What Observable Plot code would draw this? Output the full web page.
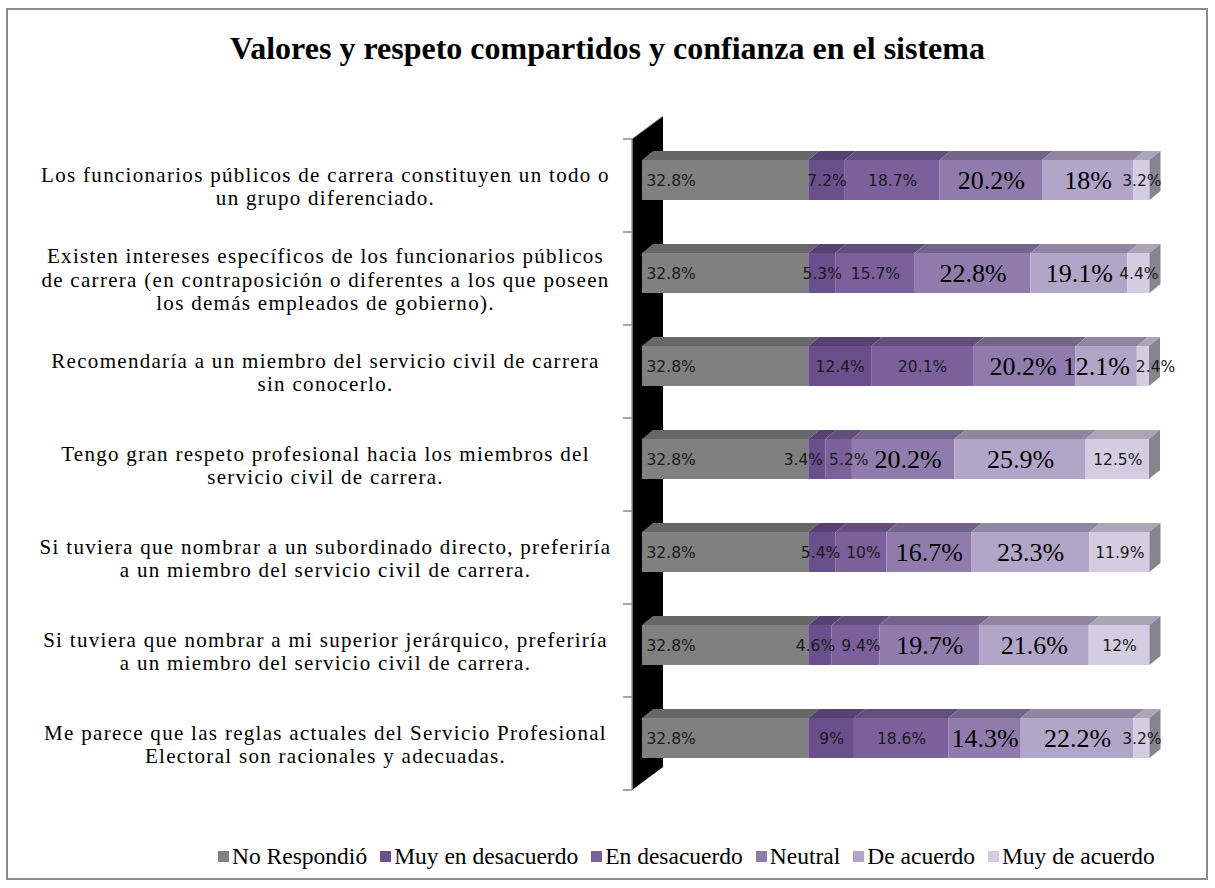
<!DOCTYPE html>
<html>
<head>
<meta charset="utf-8">
<script src="https://cdn.jsdelivr.net/npm/d3@7"></script>
<script src="https://cdn.jsdelivr.net/npm/@observablehq/plot@0.6"></script>
<style>
  html, body { margin: 0; padding: 0; background: #fff; }
  #fig { position: relative; width: 1215px; height: 888px; overflow: hidden; }
  #border { position: absolute; left: 6px; top: 8px; width: 1202px; height: 872px; border: 2px solid #8c8c8c; box-sizing: border-box; }
  #title { position: absolute; left: 0; top: 28px; width: 1215px; text-align: center; font: bold 32px "Liberation Serif", "Times New Roman", serif; line-height: 40px; color: #000; }
  #chart { position: absolute; left: 0; top: 0; }
  #legend { position: absolute; left: 218px; top: 843px; display: flex; align-items: center; font: 23.5px "Liberation Serif", "Times New Roman", serif; color: #000; white-space: nowrap; }
  #legend .item { display: flex; align-items: center; margin-right: 13px; }
  #legend .sw { width: 11px; height: 11px; margin-right: 3px; }
</style>
</head>
<body>
<div id="fig">
  <div id="border"></div>
  <div id="chart"></div>
  <div id="title">Valores y respeto compartidos y confianza en el sistema</div>
  <div id="legend"></div>
</div>
<script>
// Categories (statements), with line breaks as in the reference
const questions = [
  "Los funcionarios públicos de carrera constituyen un todo o\nun grupo diferenciado.",
  "Existen intereses específicos de los funcionarios públicos\nde carrera (en contraposición o diferentes a los que poseen\nlos demás empleados de gobierno).",
  "Recomendaría a un miembro del servicio civil de carrera\nsin conocerlo.",
  "Tengo gran respeto profesional hacia los miembros del\nservicio civil de carrera.",
  "Si tuviera que nombrar a un subordinado directo, preferiría\na un miembro del servicio civil de carrera.",
  "Si tuviera que nombrar a mi superior jerárquico, preferiría\na un miembro del servicio civil de carrera.",
  "Me parece que las reglas actuales del Servicio Profesional\nElectoral son racionales y adecuadas."
];

const seriesNames = ["No Respondió", "Muy en desacuerdo", "En desacuerdo", "Neutral", "De acuerdo", "Muy de acuerdo"];
const seriesColors = ["#808080", "#69508d", "#7c609c", "#8f7cad", "#b2a6c8", "#d4cce0"];

// Values per series, one entry per question (percent)
const noRespondio      = [32.8, 32.8, 32.8, 32.8, 32.8, 32.8, 32.8];
const muyEnDesacuerdo  = [7.2, 5.3, 12.4, 3.4, 5.4, 4.6, 9];
const enDesacuerdo     = [18.7, 15.7, 20.1, 5.2, 10, 9.4, 18.6];
const neutral          = [20.2, 22.8, 20.2, 20.2, 16.7, 19.7, 14.3];
const deAcuerdo        = [18, 19.1, 12.1, 25.9, 23.3, 21.6, 22.2];
const muyDeAcuerdo     = [3.2, 4.4, 2.4, 12.5, 11.9, 12, 3.2];

const seriesValues = [noRespondio, muyEnDesacuerdo, enDesacuerdo, neutral, deAcuerdo, muyDeAcuerdo];
const largeLabelSeries = ["Neutral", "De acuerdo"];

const data = [];
questions.forEach((q, i) => {
  seriesNames.forEach((s, j) => data.push({q, series: s, value: seriesValues[j][i]}));
});
const fmt = d => `${d.value}%`;

const chart = Plot.plot({
  width: 1215,
  height: 888,
  marginLeft: 642,
  marginRight: 66,
  marginTop: 139,
  marginBottom: 98,
  style: {background: "transparent"},
  x: {domain: [0, 100], axis: null},
  y: {domain: questions, axis: null, padding: 0},
  color: {domain: seriesNames, range: seriesColors},
  marks: [
    Plot.barX(data, {x: "value", y: "q", fill: "series", insetTop: 21, insetBottom: 32}),
    // first series label: near the base of the bar
    Plot.text(data, Plot.stackX1({
      x: "value", y: "q", z: "series",
      text: d => d.series === seriesNames[0] ? fmt(d) : null,
      textAnchor: "start", dx: 4, dy: -5,
      fontFamily: "DejaVu Sans", fontSize: 15.5, fill: "#1a1a1a"
    })),
    // small sans labels
    Plot.text(data, Plot.stackX({
      x: "value", y: "q", z: "series",
      text: d => (d.series !== seriesNames[0] && !largeLabelSeries.includes(d.series)) ? fmt(d) : null,
      dy: -5,
      fontFamily: "DejaVu Sans", fontSize: 15.5, fill: "#1a1a1a"
    })),
    // large serif labels
    Plot.text(data, Plot.stackX({
      x: "value", y: "q", z: "series",
      text: d => largeLabelSeries.includes(d.series) ? fmt(d) : null,
      dy: -5,
      fontFamily: "Liberation Serif", fontSize: 26, fill: "#000"
    })),
    // category labels
    Plot.text(questions, {
      y: d => d, text: d => d,
      frameAnchor: "left", textAnchor: "middle", dx: -317,
      fontFamily: "Liberation Serif", fontSize: 21, lineHeight: 1.12, fill: "#000"
    })
  ]
});

// 3-D decoration derived from the rendered bars and the plot's scales
(function decorate() {
  const svg = d3.select(chart);
  const xs = chart.scale("x"), ys = chart.scale("y");
  const dx = 11, dy = 9;

  // back wall
  const x0 = xs.apply(0);
  const [yTop, yBot] = ys.range;
  const wl = x0 - 10, wdx = 31, wdy = 23;
  const wall = svg.insert("g", 'g[aria-label="bar"]');
  wall.append("polygon")
    .attr("points", [[wl, yTop], [wl + wdx, yTop - wdy], [wl + wdx, yBot - wdy], [wl, yBot]].map(p => p.join(",")).join(" "))
    .attr("fill", "#000");
  wall.append("line").attr("x1", wl).attr("x2", wl).attr("y1", yTop).attr("y2", yBot)
    .attr("stroke", "#9a9a9a").attr("stroke-width", 1.5);
  wall.append("line").attr("x1", wl).attr("y1", yTop).attr("x2", wl + wdx).attr("y2", yTop - wdy)
    .attr("stroke", "#9a9a9a").attr("stroke-width", 1);
  const bounds = questions.map(q => ys.apply(q)).concat([ys.apply(questions[questions.length - 1]) + ys.bandwidth]);
  bounds.forEach(b => {
    wall.append("line").attr("x1", wl - 9).attr("x2", wl).attr("y1", b).attr("y2", b)
      .attr("stroke", "#8a8a8a").attr("stroke-width", 1.5);
  });

  // top and side faces of bars
  const barG = svg.select('g[aria-label="bar"]');
  const faces = svg.append("g");
  if (barG.attr("transform")) faces.attr("transform", barG.attr("transform"));
  const rects = barG.selectAll("rect").nodes().map(r => ({
    x: +r.getAttribute("x"), y: +r.getAttribute("y"),
    w: +r.getAttribute("width"), h: +r.getAttribute("height"),
    fill: r.getAttribute("fill")
  }));
  const lastByRow = d3.rollup(rects, v => d3.greatest(v, r => r.x + r.w), r => Math.round(r.y));
  rects.forEach(r => {
    faces.append("polygon")
      .attr("points", [[r.x, r.y], [r.x + r.w, r.y], [r.x + r.w + dx, r.y - dy], [r.x + dx, r.y - dy]].map(p => p.join(",")).join(" "))
      .attr("fill", d3.rgb(r.fill).darker(0.6).formatHex());
  });
  for (const r of lastByRow.values()) {
    faces.append("polygon")
      .attr("points", [[r.x + r.w, r.y], [r.x + r.w + dx, r.y - dy], [r.x + r.w + dx, r.y + r.h - dy], [r.x + r.w, r.y + r.h]].map(p => p.join(",")).join(" "))
      .attr("fill", d3.rgb(r.fill).darker(1.25).formatHex());
  }
  barG.node().after(faces.node());

  // letter spacing on category labels (4th text mark)
  const textGroups = svg.selectAll('g[aria-label="text"]').nodes();
  d3.select(textGroups[3]).style("letter-spacing", "1.3px");
})();

document.getElementById("chart").appendChild(chart);

// push apart overlapping value labels within each row (like the reference's label placement)
(function dodgeLabels() {
  const groups = d3.select(chart).selectAll('g[aria-label="text"]').nodes().slice(0, 3);
  const items = [];
  groups.forEach(g => g.querySelectorAll("text").forEach(t => {
    const b = t.getBoundingClientRect();
    items.push({t, left: b.left, right: b.right, cy: (b.top + b.bottom) / 2, shift: 0});
  }));
  const rows = d3.groups(items, d => Math.round(d.cy / 20));
  const gap = 6;
  for (const [, row] of rows) {
    row.sort((a, b) => a.left - b.left);
    for (let pass = 0; pass < 20; pass++) {
      for (let i = 0; i < row.length - 1; i++) {
        const a = row[i], b = row[i + 1];
        const ov = (a.right + a.shift + gap) - (b.left + b.shift);
        if (ov > 0) {
          if (i === 0) { b.shift += ov; }
          else { a.shift -= ov / 2; b.shift += ov / 2; }
        }
      }
    }
    row.forEach(d => {
      if (d.shift) d.t.setAttribute("transform", (d.t.getAttribute("transform") || "") + ` translate(${d.shift},0)`);
    });
  }
})();

// legend
const legend = d3.select("#legend");
seriesNames.forEach((s, i) => {
  const it = legend.append("div").attr("class", "item");
  it.append("div").attr("class", "sw").style("background", seriesColors[i]);
  it.append("span").text(s);
});
</script>
</body>
</html>
